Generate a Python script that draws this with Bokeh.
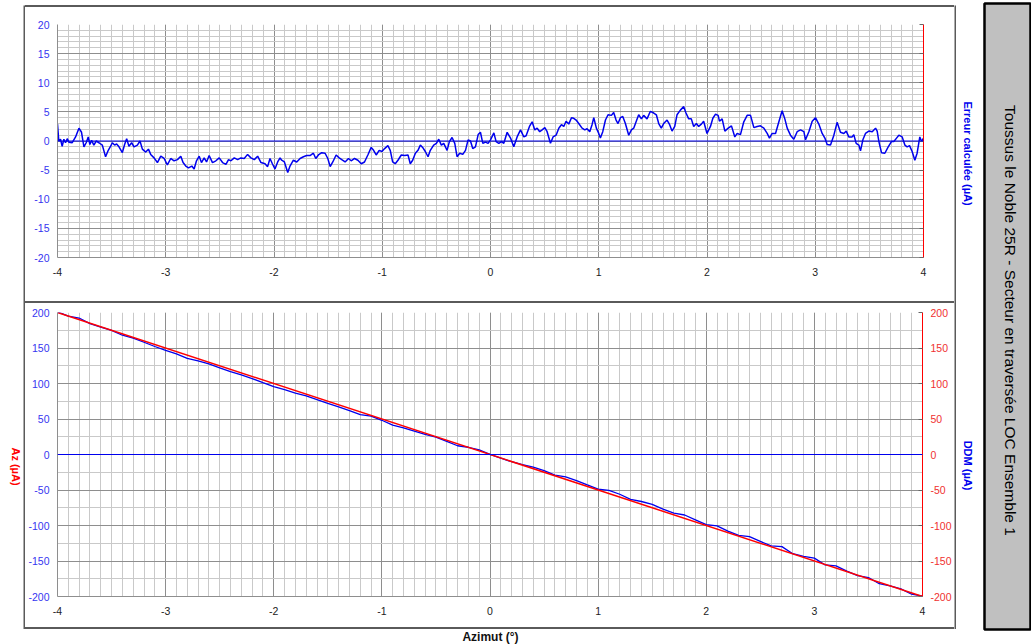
import math
from bokeh.plotting import figure
from bokeh.models import (Range1d, LinearAxis, SingleIntervalTicker, Span, Label,
                          CustomJSTickFormatter, Spacer, Div)
from bokeh.layouts import row, column
from bokeh.embed import file_html
from bokeh.resources import INLINE

# ---------------- data ----------------
err_x = [-4.000, -3.988, -3.972, -3.957, -3.941, -3.926, -3.910, -3.895, -3.864, -3.833,
         -3.802, -3.778, -3.756, -3.735, -3.716, -3.701, -3.685, -3.664, -3.642, -3.617,
         -3.586, -3.556, -3.531, -3.509, -3.494, -3.472, -3.454, -3.432, -3.401, -3.380,
         -3.361, -3.340, -3.315, -3.293, -3.262, -3.238, -3.216, -3.185, -3.160, -3.139,
         -3.108, -3.077, -3.046, -3.015, -2.985, -2.954, -2.923, -2.892, -2.861, -2.840,
         -2.815, -2.790, -2.759, -2.738, -2.716, -2.691, -2.670, -2.645, -2.623, -2.599,
         -2.568, -2.537, -2.506, -2.475, -2.444, -2.420, -2.398, -2.367, -2.336, -2.306,
         -2.275, -2.244, -2.213, -2.182, -2.151, -2.120,
         -2.083, -2.059, -2.037, -2.015, -1.991, -1.966, -1.944, -1.929, -1.904, -1.873,
         -1.852, -1.821, -1.790, -1.759, -1.728, -1.698, -1.667, -1.636, -1.614, -1.590,
         -1.559, -1.528, -1.503, -1.481, -1.457, -1.426, -1.398, -1.367, -1.343, -1.312,
         -1.287, -1.256, -1.225, -1.194, -1.164, -1.133, -1.102, -1.080, -1.056, -1.028,
         -1.003, -0.978, -0.948, -0.926, -0.904, -0.880, -0.855, -0.824, -0.793, -0.762,
         -0.741, -0.719, -0.694, -0.670, -0.648, -0.627, -0.602, -0.577, -0.556, -0.525,
         -0.500, -0.478, -0.454, -0.432, -0.401, -0.380, -0.355, -0.330, -0.309, -0.284,
         -0.256, -0.231, -0.207, -0.185, -0.164, -0.139, -0.114, -0.093, -0.071, -0.046,
         -0.022, 0.000, 0.031, 0.052, 0.077, 0.102, 0.123, 0.154, 0.185, 0.215,
         0.246, 0.277, 0.308, 0.329, 0.360, 0.385, 0.409, 0.431, 0.455, 0.477,
         0.502, 0.523, 0.554, 0.578, 0.606, 0.631, 0.655, 0.677, 0.698, 0.723,
         0.748, 0.769, 0.791, 0.815, 0.846, 0.871, 0.892, 0.917, 0.938, 0.954,
         0.978, 1.000, 1.015, 1.037, 1.062, 1.086, 1.117, 1.138, 1.160, 1.178,
         1.200, 1.222, 1.246, 1.277, 1.302, 1.323, 1.345, 1.369, 1.394, 1.415,
         1.446, 1.477, 1.508, 1.532, 1.554, 1.578, 1.600, 1.631, 1.655, 1.677,
         1.702, 1.723, 1.754, 1.785, 1.806, 1.831, 1.855, 1.877, 1.902, 1.923,
         1.948, 1.969, 2.000,
         2.032, 2.054, 2.079, 2.103, 2.115, 2.140, 2.165, 2.196, 2.226, 2.257,
         2.279, 2.309, 2.340, 2.371, 2.402, 2.433, 2.463, 2.494, 2.525, 2.556,
         2.577, 2.602, 2.633, 2.664, 2.694, 2.719, 2.741, 2.771, 2.802, 2.833,
         2.864, 2.895, 2.910, 2.941, 2.972, 3.002, 3.033, 3.064, 3.089, 3.110,
         3.141, 3.172, 3.202, 3.233, 3.264, 3.286, 3.310, 3.341, 3.356, 3.378,
         3.403, 3.418, 3.440, 3.464, 3.495, 3.526, 3.557, 3.572, 3.588, 3.612,
         3.643, 3.674, 3.704, 3.726, 3.751, 3.772, 3.803, 3.828, 3.849, 3.871,
         3.895, 3.920, 3.941, 3.966, 3.982, 4.000]

err_y = [2.9, 0.0, 0.3, -0.9, 0.3, -0.3, 0.4, -0.2, -0.3, 0.7,
         2.2, 1.5, -1.0, -0.3, 0.7, -0.6, 0.1, -0.7, 0.0, -0.3,
         -0.7, -2.7, -1.6, -0.9, -0.3, -0.7, -0.5, -1.0, -2.0, -0.6,
         0.4, -0.9, -0.3, -1.0, -0.7, 0.0, -1.4, -1.9, -1.4, -2.3,
         -2.9, -3.7, -2.6, -3.0, -4.1, -3.0, -3.4, -3.2, -2.6, -3.7,
         -4.3, -4.6, -4.3, -4.8, -3.4, -2.6, -3.7, -2.9, -3.6, -2.5,
         -3.7, -3.4, -2.9, -3.7, -4.0, -3.2, -3.4, -2.9, -3.2, -2.9,
         -3.0, -2.3, -2.9, -3.2, -2.6, -3.7,
         -3.9, -4.4, -3.0, -3.9, -4.8, -3.6, -2.9, -3.3, -3.6, -5.4,
         -4.3, -3.3, -3.6, -3.0, -2.7, -2.5, -2.5, -2.1, -3.0, -2.4,
         -2.0, -2.1, -3.0, -4.4, -3.6, -2.4, -2.9, -3.3, -3.6, -3.0,
         -3.4, -3.0, -3.3, -3.9, -3.6, -2.4, -1.1, -1.6, -2.4, -1.6,
         -1.8, -1.3, -0.8, -1.6, -3.6, -3.9, -3.3, -2.4, -2.5, -2.4,
         -3.9, -3.3, -2.1, -1.6, -0.7, -1.1, -1.8, -2.7, -1.6, -0.7,
         -0.4, 0.3, -0.7, -0.4, -1.6, -0.1, 0.6, -0.4, -2.7, -2.1,
         -2.3, -1.6, 0.2, 0.0, -1.3, -1.0, 1.1, 1.5, -0.4, -0.2,
         -0.4, 0.2, 1.4, -0.1, -0.4, -0.1, -0.4, 1.5, 0.5, -1.0,
         0.7, 1.9, 0.7, 0.9, 2.5, 3.3, 1.9, 2.2, 1.6, 1.9,
         2.3, 1.6, -0.4, 0.7, 1.0, 2.2, 2.8, 2.5, 3.4, 2.9,
         4.0, 3.9, 3.6, 3.0, 2.2, 1.9, 2.1, 1.6, 2.8, 4.0,
         2.2, 1.3, 0.5, 1.6, 3.6, 4.5, 4.4, 4.9, 3.6, 3.0,
         4.0, 4.2, 3.0, 1.0, 1.9, 2.2, 3.3, 4.5, 3.8, 4.4,
         3.8, 5.1, 4.8, 4.5, 3.0, 2.2, 3.0, 3.6, 2.8, 1.7,
         2.5, 4.5, 5.3, 5.9, 4.8, 3.8, 3.8, 2.5, 3.0, 2.5,
         2.9, 3.4, 1.3,
         2.5, 3.9, 4.6, 4.4, 3.4, 3.8, 1.7, 2.2, 2.6, 0.7,
         1.3, 1.1, 3.3, 4.4, 4.4, 2.3, 2.5, 2.6, 2.2, 1.3,
         0.5, 1.3, 1.3, 3.3, 5.2, 3.8, 2.2, 1.0, 0.3, 1.6,
         1.9, 1.6, 0.2, 1.6, 3.4, 4.0, 2.9, 1.3, 0.5, -0.6,
         -0.7, 1.0, 3.2, 1.5, 1.3, 1.7, 0.7, 0.7, 1.1, -0.4,
         -0.7, -1.7, 0.2, 1.3, 1.7, 1.6, 2.2, 1.7, -0.1, -2.0,
         -2.1, -1.0, -0.1, -0.1, 0.5, 1.0, 0.7, -0.7, -1.0, -0.8,
         -1.8, -3.3, -2.1, 0.7, -0.1, 0.5]

ddm_x = [-4.0, -3.9, -3.8, -3.7, -3.6, -3.5, -3.4, -3.3, -3.2, -3.1,
         -3.0, -2.9, -2.8, -2.7, -2.6, -2.5, -2.4, -2.3, -2.2, -2.1,
         -2.0, -1.9, -1.8, -1.7, -1.6, -1.5, -1.4, -1.3, -1.2, -1.1,
         -1.0, -0.9, -0.8, -0.7, -0.6, -0.5, -0.4, -0.3, -0.2, -0.1,
         0.0, 0.1, 0.2, 0.3, 0.4, 0.5, 0.6, 0.7, 0.8, 0.9,
         1.0, 1.1, 1.2, 1.3, 1.4, 1.5, 1.6, 1.7, 1.8, 1.9,
         2.0, 2.1, 2.2, 2.3, 2.4, 2.5, 2.6, 2.7, 2.8, 2.9,
         3.0, 3.1, 3.2, 3.3, 3.4, 3.5, 3.6, 3.7, 3.8, 3.9, 4.0]
ddm_y = [201.0, 194.8, 192.2, 184.4, 179.5, 174.7, 168.0, 164.0, 158.1, 152.1,
         146.5, 141.8, 135.5, 132.0, 127.5, 122.1, 116.6, 112.1, 107.0, 101.2,
         95.5, 91.4, 86.5, 82.5, 77.4, 72.0, 67.1, 61.8, 56.1, 53.9,
         48.2, 41.4, 37.5, 32.9, 28.2, 24.6, 18.4, 12.3, 10.2, 6.5,
         0.2, -5.1, -10.2, -14.3, -17.7, -22.7, -29.0, -31.6, -36.7, -42.9,
         -48.7, -50.6, -56.0, -63.1, -66.2, -70.2, -77.0, -82.5, -85.2, -92.0,
         -98.7, -100.6, -107.8, -113.9, -115.6, -122.4, -128.7, -129.8, -139.7, -143.4,
         -146.0, -155.6, -156.8, -164.3, -170.7, -173.3, -182.0, -185.1, -189.3, -196.8, -199.5]

az_x = [-4.0, 4.0]
az_y = [200.0, -200.0]

title_text = "Toussus le Noble 25R - Secteur en traversée LOC Ensemble 1"
err_label = "Erreur calculée (µA)"
az_label = "Az (µA)"
ddm_label = "DDM (µA)"
x_label = "Azimut (°)"

# ---------------- styles ----------------
FONT = "Liberation Sans"
BLUE = "#0000ee"
RED = "#ff0000"
TICK_BLUE = "#3535f0"
TICK_RED = "#f03030"
MAJOR = "#8e8e8e"
MINOR = "#c9c9c9"
FRAME = "#5a5a5a"
TICK_FS = "10.5px"
PAGE_H = 644

FMT = "return (Math.round(tick * 10) / 10).toString();"


def no_align(f):
    try:
        f.frame_align = False
    except Exception:
        pass
    return f


def blank(w, h, fill="white"):
    f = figure(width=w, height=h, x_range=Range1d(0, 1), y_range=Range1d(0, 1),
               output_backend="svg", toolbar_location=None, x_axis_type=None, y_axis_type=None,
               min_border_left=0, min_border_right=0, min_border_top=0, min_border_bottom=0,
               background_fill_color=fill, border_fill_color=fill, outline_line_color=None)
    return no_align(f)


def hbar(w):
    return Div(text="", width=w, height=2,
               styles={"background-color": FRAME, "margin": "0", "padding": "0"})


def vlabel(p, x, y, text, color, size="11px", bold=True, angle=-math.pi / 2):
    p.add_layout(Label(x=x, y=y, text=text, angle=angle, text_align="center",
                       text_baseline="middle", text_font=FONT,
                       text_font_style="bold" if bold else "normal",
                       text_font_size=size, text_color=color))


def tidy_axis(ax, standoff):
    ax.major_tick_out = 0
    ax.minor_tick_out = 0
    ax.minor_tick_in = 0
    ax.minor_tick_line_color = None
    ax.major_label_text_font = FONT
    ax.major_label_text_font_size = TICK_FS
    ax.major_label_standoff = standoff


def style_axes(p, xint, xminor, yint, yminor):
    p.xaxis.ticker = SingleIntervalTicker(interval=xint, num_minor_ticks=xminor)
    p.yaxis.ticker = SingleIntervalTicker(interval=yint, num_minor_ticks=yminor)
    for g in (p.xgrid[0], p.ygrid[0]):
        g.grid_line_color = MAJOR
        g.grid_line_width = 1
        g.minor_grid_line_color = MINOR
        g.minor_grid_line_width = 1
    for ax in (p.xaxis[0], p.yaxis[0]):
        ax.formatter = CustomJSTickFormatter(code=FMT)
        ax.axis_line_color = MAJOR
        ax.major_tick_line_color = None
        ax.major_tick_in = 0
    tidy_axis(p.xaxis[0], 10)
    tidy_axis(p.yaxis[0], 8)
    p.xaxis[0].major_label_text_color = "#222222"
    p.yaxis[0].major_label_text_color = TICK_BLUE


# ---------------- top panel ----------------
top = figure(width=929, height=294, x_range=Range1d(-4, 4), y_range=Range1d(-20, 20),
             output_backend="svg", toolbar_location=None,
             min_border_left=32, min_border_right=31, min_border_top=17, min_border_bottom=44,
             background_fill_color="white", border_fill_color="white", outline_line_color=None)
no_align(top)
style_axes(top, 1, 10, 5, 5)

ra_top = LinearAxis(ticker=SingleIntervalTicker(interval=5, num_minor_ticks=5),
                    formatter=CustomJSTickFormatter(code="return '';"))
tidy_axis(ra_top, 0)
ra_top.axis_line_color = RED
ra_top.major_tick_in = 4
ra_top.major_tick_line_color = "#666666"
top.add_layout(ra_top, "right")

top.add_layout(Span(location=0, dimension="width", line_color=BLUE, line_width=1))
top.line(err_x, err_y, line_color=BLUE, line_width=1.5)

# ---------------- bottom panel ----------------
bot = figure(width=929, height=324, x_range=Range1d(-4, 4), y_range=Range1d(-200, 200),
             output_backend="svg", toolbar_location=None,
             min_border_left=32, min_border_right=31, min_border_top=9, min_border_bottom=31,
             background_fill_color="white", border_fill_color="white", outline_line_color=None)
no_align(bot)
style_axes(bot, 1, 10, 50, 2)

ra_bot = LinearAxis(ticker=SingleIntervalTicker(interval=50, num_minor_ticks=2),
                    formatter=CustomJSTickFormatter(code=FMT))
tidy_axis(ra_bot, 8)
ra_bot.axis_line_color = RED
ra_bot.major_tick_in = 4
ra_bot.major_tick_line_color = "#666666"
ra_bot.major_label_text_color = TICK_RED
bot.add_layout(ra_bot, "right")

bot.add_layout(Span(location=0, dimension="width", line_color=BLUE, line_width=1))
bot.line(ddm_x, ddm_y, line_color=BLUE, line_width=1.3)
bot.line(az_x, az_y, line_color=RED, line_width=1.5)

# ---------------- label strips and frame bars ----------------
left_strip = blank(23, PAGE_H)
vlabel(left_strip, 15 / 23, 1 - 466 / PAGE_H, az_label, RED)

right_strip = blank(27, PAGE_H)
vlabel(right_strip, 11 / 27, 1 - 153 / PAGE_H, err_label, BLUE)
vlabel(right_strip, 11 / 27, 1 - 465 / PAGE_H, ddm_label, BLUE)

bottom_strip = blank(929, 15)
vlabel(bottom_strip, 465 / 929, 0.5, x_label, "#111111", size="12px", angle=0)


def vbar():
    return column(Spacer(width=2, height=5), blank(2, 624, FRAME), Spacer(width=2, height=15))


center = column(Spacer(width=929, height=5), hbar(929), top,
                hbar(929), bot, hbar(929), bottom_strip)

# ---------------- side title box ----------------
side = figure(width=48, height=PAGE_H, x_range=Range1d(0, 1), y_range=Range1d(0, 1),
              output_backend="svg", toolbar_location=None, x_axis_type=None, y_axis_type=None,
              min_border_left=1, min_border_right=0, min_border_top=3, min_border_bottom=15,
              background_fill_color="#c0c0c0", border_fill_color="white",
              outline_line_color="black", outline_line_width=2.5)
no_align(side)
vlabel(side, 0.553, 0.4936, title_text, "#000000", size="15.5px", bold=False)

layout = row(left_strip, vbar(), center, vbar(), right_strip, side)
open("out.html", "w").write(file_html(layout, INLINE))
